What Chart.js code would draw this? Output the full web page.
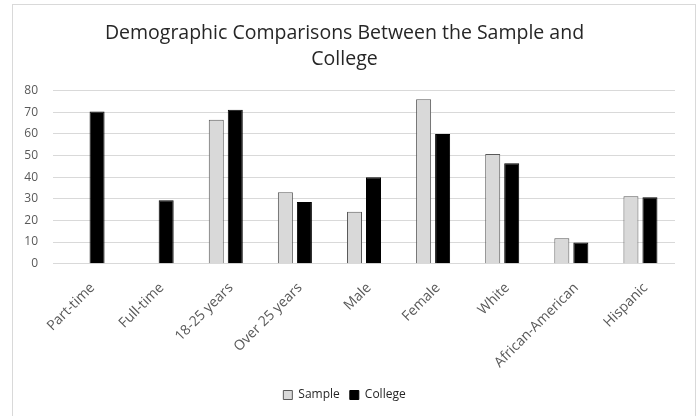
<!DOCTYPE html>
<html><head><meta charset="utf-8">
<script src="https://cdn.jsdelivr.net/npm/chart.js@4/dist/chart.umd.min.js"></script>
<style>html,body{margin:0;padding:0;background:#fff;}#wrap{width:699px;height:416px;position:relative;}</style>
</head><body><div id="wrap"><canvas id="c" width="699" height="416"></canvas></div>
<script>
const categories = ["Part-time","Full-time","18-25 years","Over 25 years","Male","Female","White","African-American","Hispanic"];
const sampleValues = [null,null,66.5,33,24,76,50.7,11.8,31.2];
const collegeValues = [70.4,29.3,71.2,28.5,40,60,46.4,9.8,30.7];
const yTicks = [0,10,20,30,40,50,60,70,80];
const titleLines = ["Demographic Comparisons Between the Sample and","College"];

const borderPlugin = {
  id:'frame',
  beforeDraw(chart){
    const ctx = chart.ctx;
    ctx.save();
    ctx.fillStyle='#fff';
    ctx.fillRect(0,0,chart.width,chart.height);
    ctx.strokeStyle='#d9d9d9';
    ctx.lineWidth=1;
    ctx.strokeRect(12.5,4.5,683,420);
    ctx.restore();
  }
};

new Chart(document.getElementById('c'),{
  type:'bar',
  data:{labels:categories,datasets:[
    {label:'Sample',data:sampleValues,backgroundColor:'#d9d9d9',borderColor:'#595959',borderWidth:1,categoryPercentage:0.55,barPercentage:0.79},
    {label:'College',data:collegeValues,backgroundColor:'#000000',borderColor:'#000000',borderWidth:1,categoryPercentage:0.55,barPercentage:0.79}
  ]},
  options:{
    responsive:false,animation:false,
    layout:{padding:{left:14,right:24,top:0,bottom:5}},
    plugins:{
      title:{display:true,text:titleLines,color:'#262626',font:{family:'Open Sans',size:19.5,weight:'normal',lineHeight:1.35},padding:{top:20,bottom:18}},
      legend:{position:'bottom',labels:{boxWidth:9,boxHeight:9,color:'#262626',font:{family:'Open Sans',size:12},padding:10},},
      tooltip:{enabled:false}
    },
    scales:{
      x:{grid:{display:false},border:{display:false},
         ticks:{color:'#595959',font:{family:'Open Sans',size:14},minRotation:45,maxRotation:45,padding:8,labelOffset:5}},
      y:{min:0,max:80,
         afterBuildTicks(s){s.ticks=yTicks.map(v=>({value:v}));},
         afterFit(s){s.width=39;},
         grid:{color:'#d9d9d9',lineWidth:1,drawTicks:false},border:{display:false},
         ticks:{color:'#595959',font:{family:'Open Sans',size:12},padding:15}}
    }
  },
  plugins:[borderPlugin]
});
</script></body></html>
